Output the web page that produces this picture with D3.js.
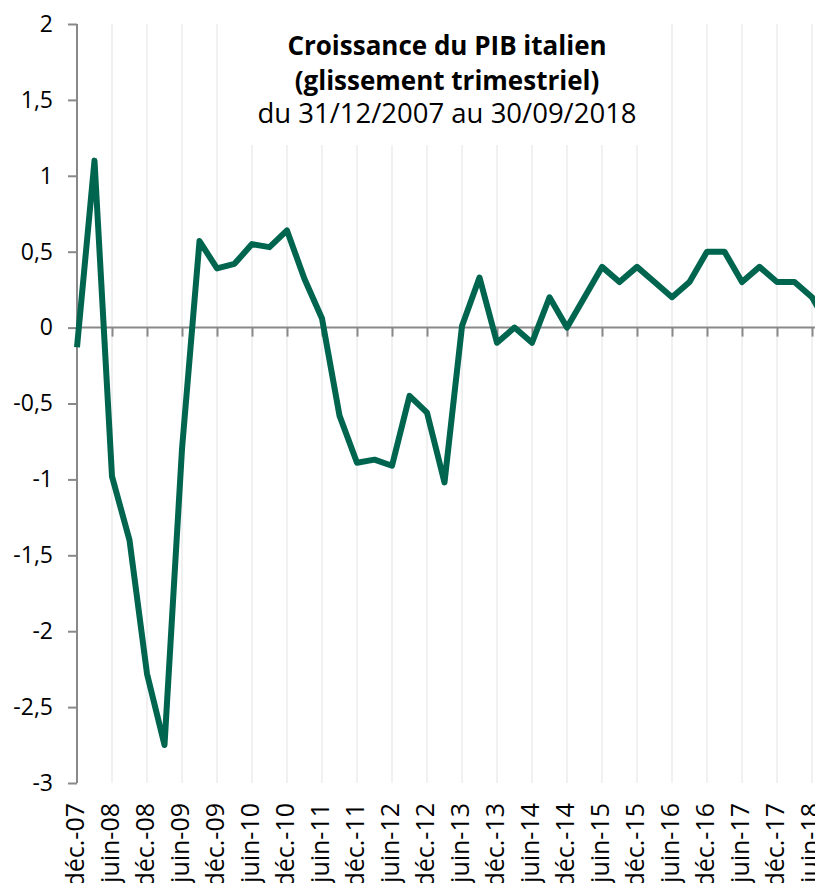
<!DOCTYPE html>
<html lang="fr">
<head>
  <meta charset="UTF-8">
  <title>Croissance du PIB italien</title>
  <script src="https://cdn.jsdelivr.net/npm/d3@7"></script>
  <style>
    html, body { margin: 0; padding: 0; background: #fff; overflow: hidden; }
    text { font-family: "Open Sans", sans-serif; fill: #000; }
  </style>
</head>
<body>
  <svg width="815" height="883" id="main"></svg>
<script>
  // trimestres (fin de période)
  const quarters = [
    'déc.-07', 'mars-08', 'juin-08', 'sept.-08', 'déc.-08',
    'mars-09', 'juin-09', 'sept.-09', 'déc.-09',
    'mars-10', 'juin-10', 'sept.-10', 'déc.-10',
    'mars-11', 'juin-11', 'sept.-11', 'déc.-11',
    'mars-12', 'juin-12', 'sept.-12', 'déc.-12',
    'mars-13', 'juin-13', 'sept.-13', 'déc.-13',
    'mars-14', 'juin-14', 'sept.-14', 'déc.-14',
    'mars-15', 'juin-15', 'sept.-15', 'déc.-15',
    'mars-16', 'juin-16', 'sept.-16', 'déc.-16',
    'mars-17', 'juin-17', 'sept.-17', 'déc.-17',
    'mars-18', 'juin-18', 'sept.-18'
  ];
  // glissement trimestriel du PIB (%)
  const growth = [
    -0.13, 1.10, -0.98, -1.40, -2.28,
    -2.75, -0.80, 0.57, 0.39,
    0.42, 0.55, 0.53, 0.64,
    0.32, 0.06, -0.58, -0.89,
    -0.87, -0.91, -0.45, -0.56,
    -1.02, 0.01, 0.33, -0.10,
    0.00, -0.10, 0.20, 0.00,
    0.20, 0.40, 0.30, 0.40,
    0.30, 0.20, 0.30, 0.50,
    0.50, 0.30, 0.40, 0.30,
    0.30, 0.20, 0.00
  ];
  const yTicks = [-3, -2.5, -2, -1.5, -1, -0.5, 0, 0.5, 1, 1.5, 2];
  const titleLines = ['Croissance du PIB italien', '(glissement trimestriel)', 'du 31/12/2007 au 30/09/2018'];

  const svg = d3.select('#main');
  const m = { left: 77, top: 24, bottom: 783 };
  const step = 17.5; // largeur d'un trimestre

  const x = d3.scalePoint()
    .domain(quarters)
    .range([m.left, m.left + step * (quarters.length - 1)]);
  const y = d3.scaleLinear().domain([-3, 2]).range([m.bottom, m.top]);

  const fr = d3.formatLocale({ decimal: ',', thousands: ' ', grouping: [3], currency: ['', ' €'], minus: '-' });
  const fmt = fr.format('.1~f');

  // libellés affichés : un trimestre sur deux (déc. / juin)
  const shown = quarters.filter((d, i) => i % 2 === 0);

  // quadrillage vertical
  svg.append('g')
    .selectAll('line')
    .data(shown.slice(1))
    .enter()
    .append('line')
    .attr('x1', d => x(d)).attr('x2', d => x(d))
    .attr('y1', m.top).attr('y2', m.bottom)
    .attr('stroke', '#ececec')
    .attr('stroke-width', 1.5);

  // cadre blanc du titre (masque le quadrillage)
  svg.append('rect')
    .attr('x', 232).attr('y', m.top - 2)
    .attr('width', 422).attr('height', 123)
    .attr('fill', '#fff');

  // axe vertical
  const yAxis = svg.append('g')
    .attr('transform', `translate(${m.left},0)`)
    .call(d3.axisLeft(y).tickValues(yTicks).tickFormat(fmt).tickSize(9).tickPadding(15));
  yAxis.selectAll('line, path').attr('stroke', '#898989').attr('stroke-width', 2);
  yAxis.select('.domain').attr('d', `M0,${m.top}V${m.bottom}`);
  yAxis.selectAll('text')
    .attr('font-size', 23)
    .attr('font-family', '"Open Sans", sans-serif')
    .attr('fill', '#000');

  // axe horizontal à zéro
  const xAxis = svg.append('g')
    .attr('transform', `translate(0,${y(0)})`)
    .call(d3.axisBottom(x).tickValues(shown).tickSize(9).tickFormat(''));
  xAxis.selectAll('line, path').attr('stroke', '#898989').attr('stroke-width', 2);
  xAxis.select('.domain').attr('d', `M${m.left},0H815`);

  // libellés des trimestres, en bas
  svg.append('g')
    .selectAll('text')
    .data(shown)
    .enter()
    .append('text')
    .attr('transform', d => `translate(${x(d) + 6.5},803) rotate(-90)`)
    .attr('text-anchor', 'end')
    .attr('font-size', 25)
    .text(d => d);

  // la courbe
  const line = d3.line()
    .x((d, i) => x(quarters[i]))
    .y(d => y(d));
  svg.append('path')
    .datum(growth)
    .attr('d', line)
    .attr('fill', 'none')
    .attr('stroke', '#00654f')
    .attr('stroke-width', 6)
    .attr('stroke-linejoin', 'round');

  // titre
  const title = svg.append('text')
    .attr('text-anchor', 'middle');
  title.selectAll('tspan')
    .data(titleLines)
    .enter()
    .append('tspan')
    .attr('x', 447)
    .attr('y', (d, i) => [55, 90, 123][i])
    .attr('font-size', (d, i) => i < 2 ? 26 : 27.5)
    .attr('font-weight', (d, i) => i < 2 ? 'bold' : 'normal')
    .text(d => d);
</script>
</body>
</html>
